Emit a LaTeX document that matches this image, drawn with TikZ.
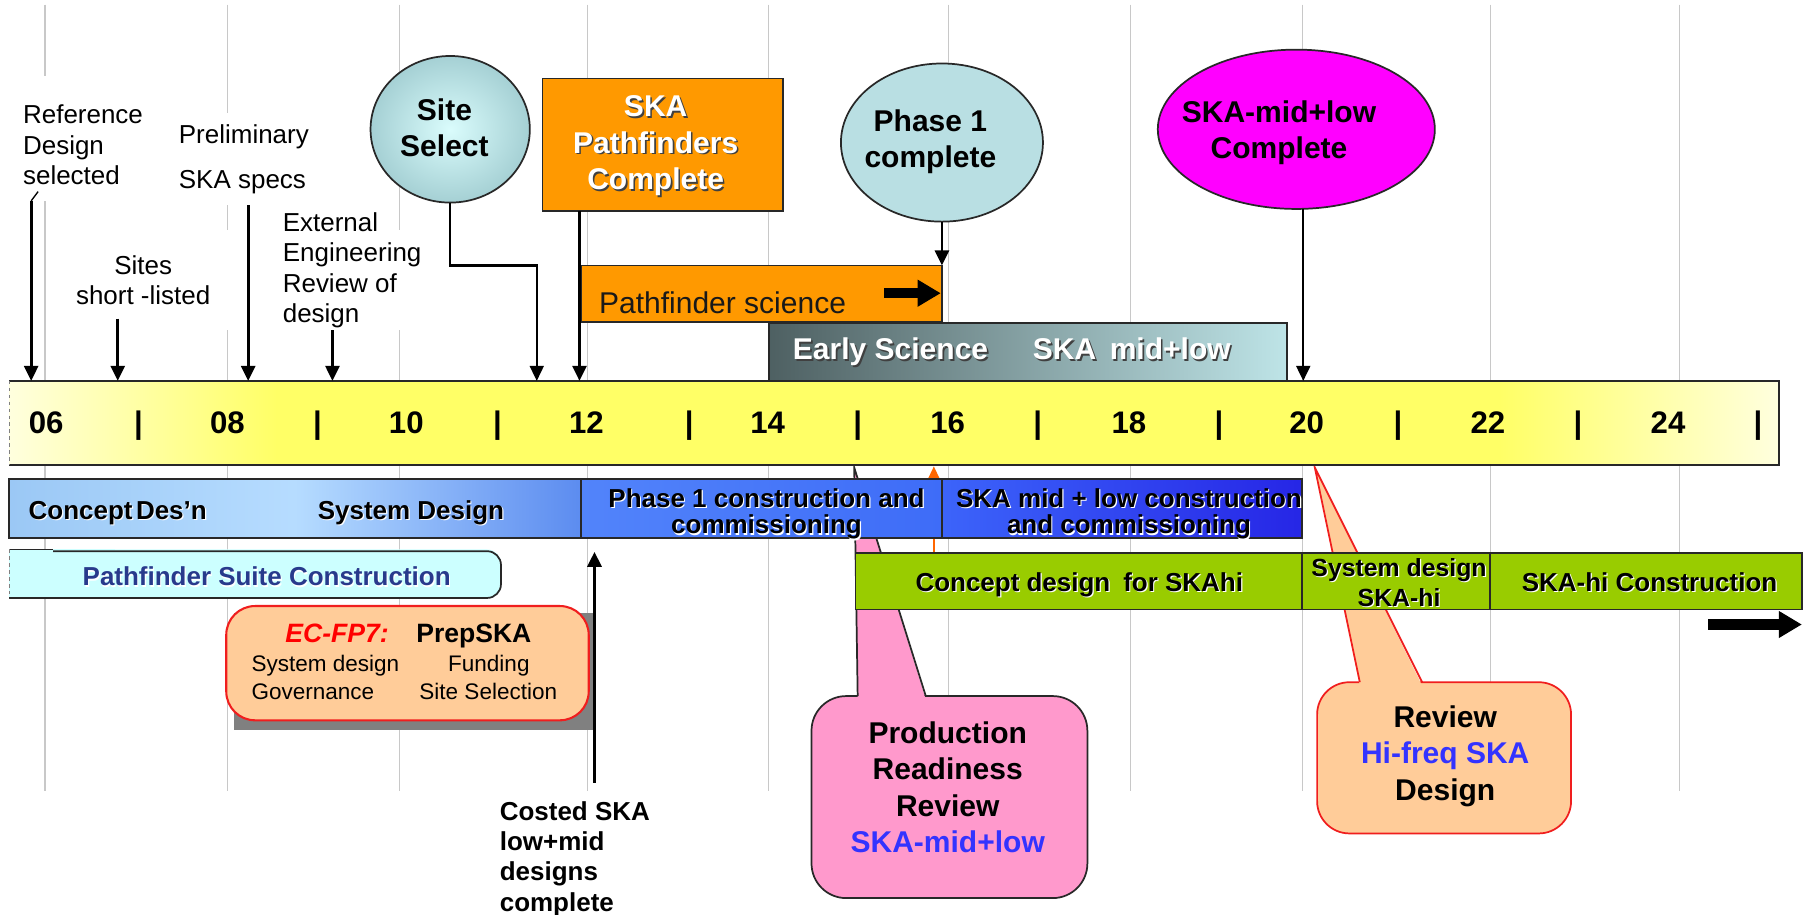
\documentclass[tikz,border=0pt]{standalone}
\usepackage{fontspec}
\setmainfont{Liberation Sans}
\usetikzlibrary{arrows.meta,shapes.geometric}

\definecolor{tlyel}{RGB}{255,255,102}
\definecolor{tlpale}{RGB}{255,255,222}
\definecolor{teal1}{RGB}{185,223,227}
\definecolor{tealc}{RGB}{218,252,252}
\definecolor{teale}{RGB}{165,208,212}
\definecolor{orng}{RGB}{255,153,0}
\definecolor{mag}{RGB}{255,0,255}
\definecolor{esdark}{RGB}{78,96,98}
\definecolor{eslight}{RGB}{190,228,231}
\definecolor{bla}{RGB}{155,200,245}
\definecolor{blb}{RGB}{182,220,255}
\definecolor{blc}{RGB}{92,140,240}
\definecolor{bld}{RGB}{82,132,250}
\definecolor{ble}{RGB}{62,108,248}
\definecolor{blf}{RGB}{60,100,250}
\definecolor{blg}{RGB}{38,38,230}
\definecolor{grn}{RGB}{153,204,0}
\definecolor{cyanbox}{RGB}{204,255,255}
\definecolor{navy}{RGB}{40,58,140}
\definecolor{pinkc}{RGB}{255,153,204}
\definecolor{peach}{RGB}{255,204,153}
\definecolor{txtblue}{RGB}{51,51,255}
\definecolor{bord}{RGB}{40,40,40}
\definecolor{gridc}{RGB}{200,200,200}
\definecolor{redb}{RGB}{240,30,30}
\definecolor{orarrow}{RGB}{255,102,0}
\definecolor{shadowg}{RGB}{128,128,128}

\newcommand\shw[1]{\leavevmode\rlap{\kern1.4pt\raisebox{-1.4pt}{\color{black!75}#1}}#1}
\newcommand\shb[1]{\leavevmode\rlap{\kern1pt\raisebox{-1pt}{\color{white}#1}}#1}
\newcommand\fsbig{\fontsize{26}{31.5}\selectfont}
\newcommand\fslbl{\fontsize{22.5}{26.3}\selectfont}
\newcommand\fsbar{\fontsize{22.5}{23}\selectfont}
\newcommand\fsnum{\fontsize{27}{30}\selectfont}
\newcommand\fsprep{\fontsize{19.5}{24}\selectfont}

\tikzset{
 every node/.append style={inner sep=0pt, outer sep=0pt},
 lbl/.style={font=\fslbl, align=left, anchor=west},
 bigtxt/.style={font=\bfseries\fsbig, align=center},
 bartxt/.style={font=\bfseries\fsbar, align=center},
 numtxt/.style={font=\bfseries\fsnum},
 arr/.style={draw=black, line width=2.5pt, -{Triangle[length=13pt,width=12pt]}},
 arrthin/.style={draw=black, line width=1.8pt, -{Triangle[length=13pt,width=12pt]}},
 fat/.style={draw=black, line width=9pt, -{Triangle[length=20pt,width=22pt]}},
 gridln/.style={draw=gridc, line width=1pt},
 barbox/.style={draw=bord, line width=1.5pt, anchor=north west},
}

\begin{document}
\begin{tikzpicture}[x=1pt,y=-1pt]
\useasboundingbox (0,0) rectangle (1568,792);
\fill[white] (0,0) rectangle (1568,792);

% grid lines
\foreach \gx in {39,197,346,509,666,822,979,1128,1291,1455}
  \draw[gridln] (\gx,4) -- (\gx,685);

% white backgrounds of the labels
\fill[white] (14,66) rectangle (132,174);
\fill[white] (150,98) rectangle (278,178);
\fill[white] (190,199) rectangle (372,286);

% callouts (pointers behind bars)
\node[draw=bord, line width=1.5pt, fill=pinkc, rounded corners=30pt, minimum width=239pt, minimum height=175pt, anchor=north west] (prr) at (703,603) {};
\coordinate (prtip) at (740,405);
\coordinate (prb1) at (743,603);
\coordinate (prb2) at (802,603);
\fill[pinkc] (743,606) -- (prtip) -- (802,606) -- cycle;
\draw[bord, line width=1.5pt] (prb1) -- (prtip) -- (prb2);

\node[draw=redb, line width=1.5pt, fill=peach, rounded corners=28pt, minimum width=220pt, minimum height=131pt, anchor=north west] (hfr) at (1141,591) {};
\coordinate (hftip) at (1139,405);
\coordinate (hfb1) at (1178,591);
\coordinate (hfb2) at (1232,591);
\fill[peach] (1178,594) -- (hftip) -- (1232,594) -- cycle;
\draw[redb, line width=1.5pt] (hfb1) -- (hftip) -- (hfb2);

% thin orange arrow (behind the blue bar)
\coordinate (oA) at (809,479);
\coordinate (oB) at (809,404);
\draw[orarrow, line width=1.6pt, -{Triangle[length=11pt,width=10pt]}] (oA) -- (oB);

% time line bar
\fill[left color=tlpale, right color=tlyel] (8,330) rectangle (240,403);
\fill[tlyel] (239,330) rectangle (1300,403);
\fill[left color=tlyel, right color=tlpale] (1299,330) rectangle (1541,403);
\draw[bord, line width=1.5pt] (8,330) -- (1541,330) -- (1541,403) -- (8,403);
\draw[gray, dashed, line width=1pt] (8,330) -- (8,403);

% blue bar
\node[barbox, minimum width=495pt, minimum height=51pt, left color=bla, right color=blc, middle color=blb] (bs1) at (8,415) {};
\node[barbox, minimum width=313pt, minimum height=51pt, left color=bld, right color=ble] (bs2) at (503,415) {};
\node[barbox, minimum width=312pt, minimum height=51pt, left color=blf, right color=blg] (bs3) at (816,415) {};

% pathfinder suite construction
\fill[cyanbox, rounded corners=12pt] (8,476) rectangle (434,518);
\fill[cyanbox] (8,476) rectangle (100,518);
\draw[bord, line width=1.5pt, rounded corners=12pt] (46,477.5) -- (434,477.5) -- (434,518) -- (8,518);
\draw[bord, line width=1.2pt] (8,476) -- (46,476);
\draw[gray, dashed, line width=1pt] (8,476) -- (8,518);

% green bar
\node[barbox, fill=grn, minimum width=387pt, minimum height=49pt] (g1) at (741,479) {};
\node[barbox, fill=grn, minimum width=163pt, minimum height=49pt] (g2) at (1128,479) {};
\node[barbox, fill=grn, minimum width=270pt, minimum height=49pt] (g3) at (1291,479) {};

% PrepSKA box
\fill[shadowg] (203,531) rectangle (516,632);
\node[draw=redb, line width=1.8pt, fill=peach, rounded corners=25pt, minimum width=314pt, minimum height=99pt, anchor=north west] (prep) at (196,525) {};

% upper boxes
\node[barbox, fill=orng, minimum width=208pt, minimum height=115pt] (pfbox) at (470,68) {};
\node[barbox, fill=orng, minimum width=313pt, minimum height=49pt] (psci) at (503,230) {};
\node[barbox, minimum width=449pt, minimum height=50pt, left color=esdark, right color=eslight] (es) at (666,280) {};

% ellipses
\node[ellipse, draw=bord, line width=1.5pt, inner color=tealc, outer color=teale, minimum width=138pt, minimum height=127pt] (ss) at (390,112) {};
\node[ellipse, draw=bord, line width=1.5pt, fill=teal1, minimum width=175pt, minimum height=137pt] (p1) at (816,123.5) {};
\node[ellipse, draw=bord, line width=1.5pt, fill=mag, minimum width=240pt, minimum height=138pt] (mc) at (1123,112) {};

% fat arrows
\coordinate (fa1a) at (766,254);
\coordinate (fa1b) at (815,254);
\draw[fat] (fa1a) -- (fa1b);
\coordinate (fa2a) at (1480,541);
\coordinate (fa2b) at (1561,541);
\draw[fat] (fa2a) -- (fa2b);

% milestone arrows
\coordinate (rA) at (33,166);
\coordinate (rB) at (27,174);
\coordinate (rC) at (27,330);
\draw[line width=1.2pt] (rA) -- (rB);
\draw[arr] (rB) -- (rC);
\coordinate (sA) at (102,276);
\coordinate (sB) at (102,330);
\draw[arr] (sA) -- (sB);
\coordinate (pA) at (215,178);
\coordinate (pB) at (215,330);
\draw[arr] (pA) -- (pB);
\coordinate (eA) at (288,286);
\coordinate (eB) at (288,330);
\draw[arr] (eA) -- (eB);
\coordinate (ssk) at (465,230);
\coordinate (sstl) at (465,330);
\draw[arrthin] (ss.south) |- (ssk) -- (sstl);
\coordinate (pftl) at (502,330);
\draw[arr] ([xshift=32pt]pfbox.south west) -- (pftl);
\coordinate (p1tl) at (816,230);
\draw[arr] (p1.south) -- (p1tl);
\coordinate (mctl) at (1129,330);
\draw[arr, line width=2pt] ([xshift=6pt]mc.south) -- (mctl);
\coordinate (cA) at (515,678);
\coordinate (cB) at (515,478);
\draw[arr, line width=3pt] (cA) -- (cB);

% year scale
\foreach \x/\t [count=\i] in {40/06,197/08,352/10,508/12,665/14,821/16,978/18,1132/20,1289/22,1445/24}
  \node[numtxt] (yr\i) at (\x,366) {\t};
\foreach \x [count=\i] in {120,275,431,597,743,899,1056,1211,1367,1523}
  \node[numtxt] (sep\i) at (\x,369) {|};

% labels above the time line
\node[lbl] (lref) at (20,125.5) {Reference\\Design\\selected};
\node[lbl, align=center, anchor=center] (lsites) at (124,243) {Sites\\short -listed};
\node[lbl] (lprel) at (155,138) {Preliminary\\[13pt]SKA specs};
\node[lbl] (lext) at (245,234) {External\\Engineering\\Review of\\design};
\node[lbl, font=\bfseries\fslbl] (lcost) at (433,744) {Costed SKA\\low+mid\\designs\\complete};

% texts in shapes
\node[bigtxt] (sstxt) at (385,110.5) {Site\\Select};
\node[bigtxt, text=white] (pftxt) at (568,127) {\shw{SKA}\\\shw{Pathfinders}\\\shw{Complete}};
\node[bigtxt] (p1txt) at (806,123) {Phase 1\\complete};
\node[bigtxt] (mctxt) at (1108,115) {SKA-mid+low\\Complete};
\node[font=\fsbig, text=black!90, anchor=west] (pscit) at (519,262) {Pathfinder science};
\node[bigtxt, text=white] (est1) at (771.5,305.7) {\shw{Early Science}};
\node[bigtxt, text=white] (est2) at (980.5,303) {\shw{SKA\hspace{0.45em}mid+low}};

\node[bartxt] (bt1) at (102,445) {\shb{Concept\hspace{3pt}Des'n}};
\node[bartxt] (bt2) at (356,445) {\shb{System Design}};
\node[bartxt] (bt3) at (664,445.7) {\shb{Phase 1 construction and}\\\shb{commissioning}};
\node[bartxt] (bt4) at (978,445.7) {\shb{SKA mid + low construction}\\\shb{and commissioning}};

\node[font=\bfseries\fontsize{22.5}{25}\selectfont, text=navy] (pst) at (231,500) {\shb{Pathfinder Suite Construction}};

\node[bartxt] (gt1) at (935,507) {\shb{Concept design\hspace{0.5em}for SKAhi}};
\node[bartxt, font=\bfseries\fontsize{21.5}{26}\selectfont] (gt2) at (1212,505) {\shb{System design}\\\shb{SKA-hi}};
\node[bartxt] (gt3) at (1429,505) {\shb{SKA-hi Construction}};

\node[font=\bfseries\itshape\fontsize{23}{26}\selectfont, text=red] (ec) at (292,549) {EC-FP7:};
\node[font=\bfseries\fontsize{23}{26}\selectfont] (psk) at (410.5,551) {PrepSKA};
\node[font=\fsprep, anchor=west] (ps1) at (218,577) {System design};
\node[font=\fsprep] (ps2) at (423.5,577) {Funding};
\node[font=\fsprep, anchor=west] (ps3) at (218,599) {Governance};
\node[font=\fsprep] (ps4) at (423,599) {Site Selection};

\node[bigtxt] (prt) at (821,682) {Production\\Readiness\\Review\\\textcolor{txtblue}{SKA-mid+low}};
\node[bigtxt] (hft) at (1252,655) {Review\\\textcolor{txtblue}{Hi-freq SKA}\\Design};
\end{tikzpicture}
\end{document}
